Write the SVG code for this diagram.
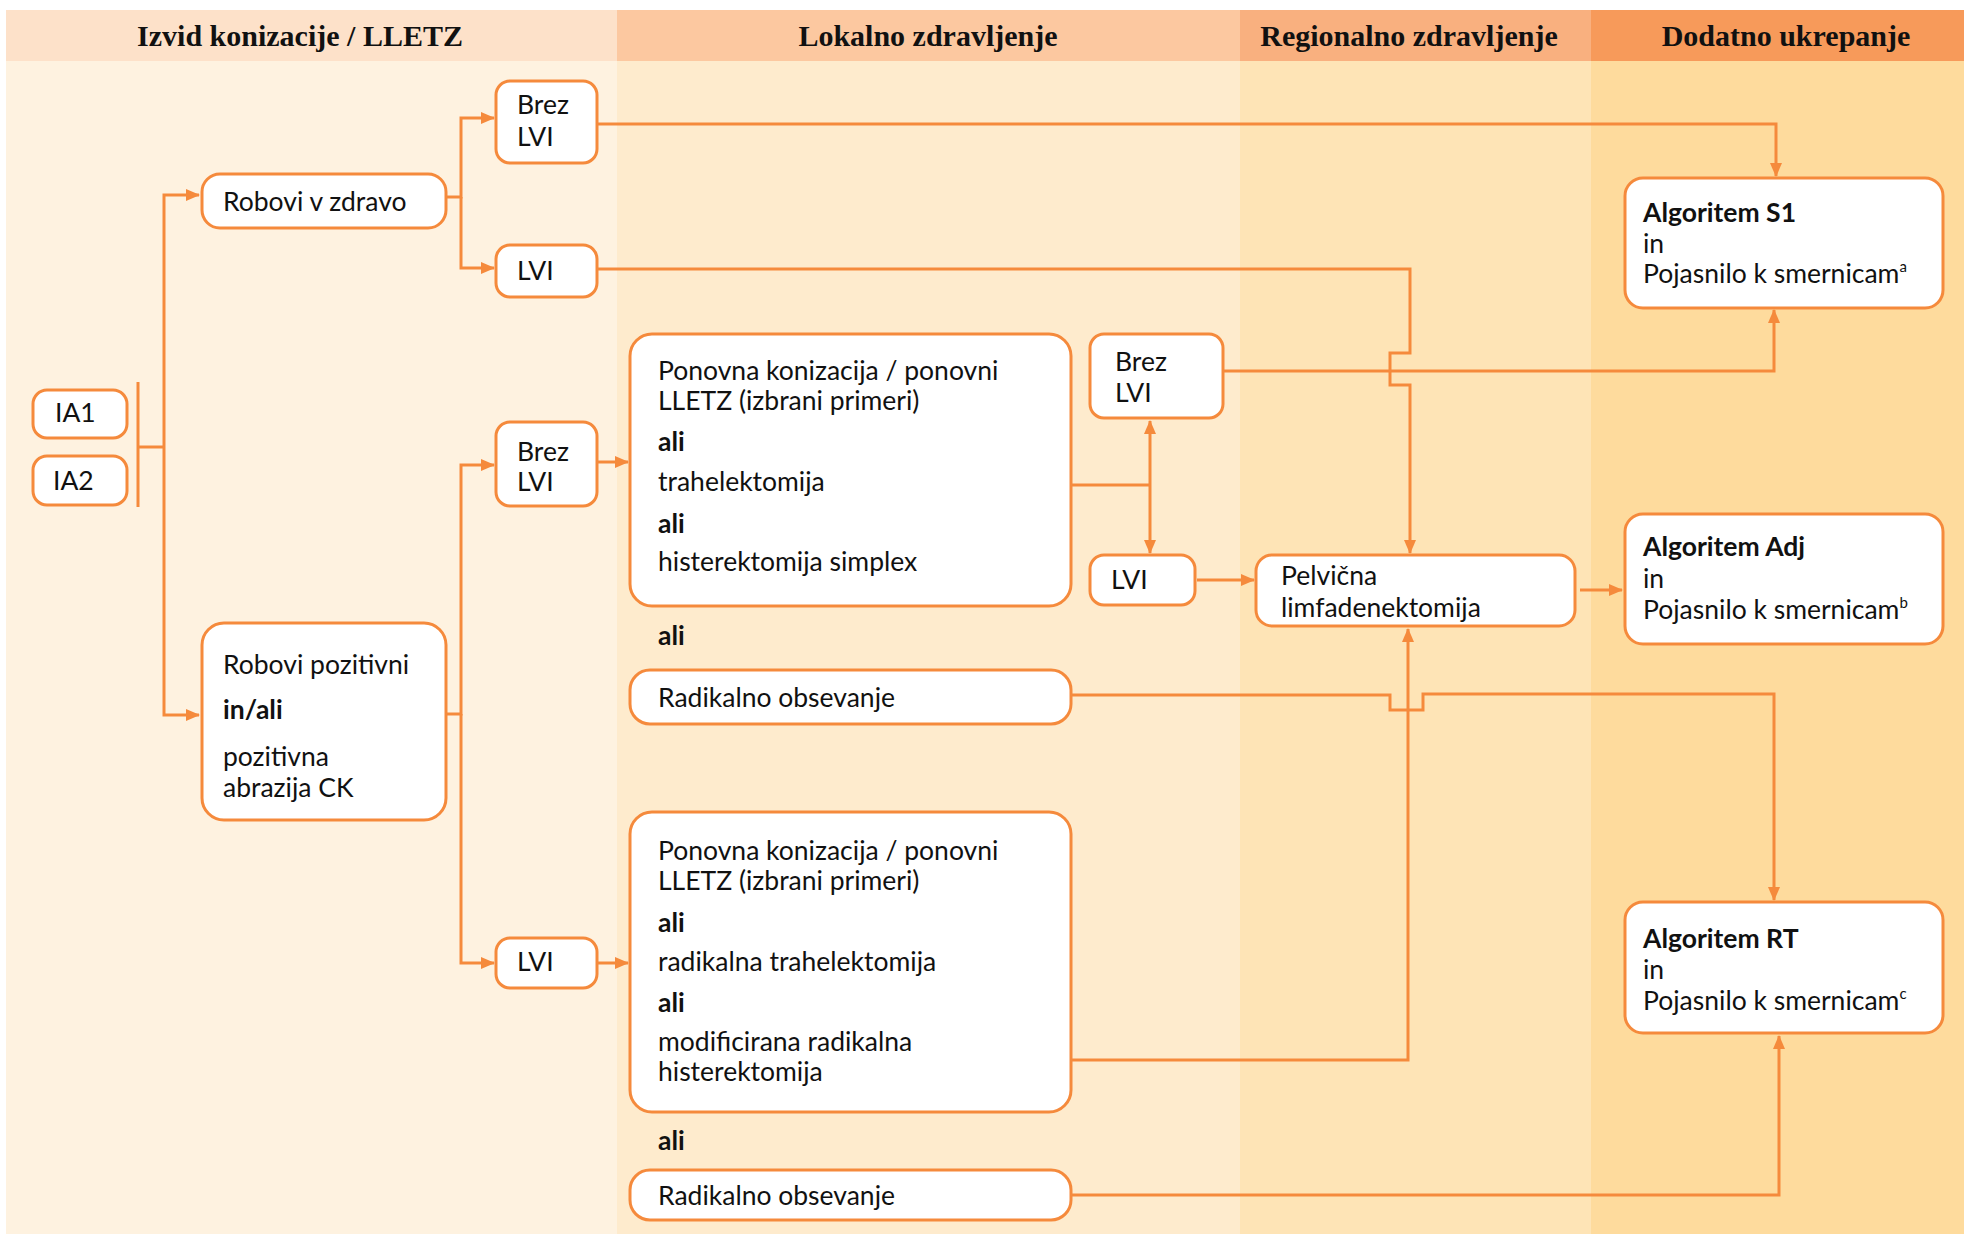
<svg xmlns="http://www.w3.org/2000/svg" width="1964" height="1235" viewBox="0 0 1964 1235">
<defs>
<style>
.hd{font-family:"Liberation Serif",serif;font-weight:bold;font-size:30px;fill:#111;text-anchor:middle}
.t{font-family:Lato,"Open Sans",sans-serif;font-size:26.5px;fill:#111}
.b{font-weight:bold}
.box{fill:#fff;stroke:#f58a3c;stroke-width:3}
.c{fill:none;stroke:#f58a3c;stroke-width:3}
.sup{font-size:15px}
</style>
<marker id="ah" markerUnits="userSpaceOnUse" markerWidth="14" markerHeight="12" refX="13" refY="6" orient="auto">
<path d="M0,0 L14,6 L0,12 z" fill="#f58a3c"/>
</marker>
</defs>
<rect width="1964" height="1235" fill="#fff"/>
<g id="background">
<rect x="6" y="10" width="611" height="51" fill="#fde1c9"/>
<rect x="617" y="10" width="623" height="51" fill="#fcc8a0"/>
<rect x="1240" y="10" width="351" height="51" fill="#f9b07f"/>
<rect x="1591" y="10" width="373" height="51" fill="#f79a5a"/>
<rect x="6" y="61" width="611" height="1173" fill="#fef2e0"/>
<rect x="617" y="61" width="623" height="1173" fill="#feebcd"/>
<rect x="1240" y="61" width="351" height="1173" fill="#fee4b6"/>
<rect x="1591" y="61" width="373" height="1173" fill="#fedb9d"/>
<text class="hd" x="300" y="46">Izvid konizacije / LLETZ</text>
<text class="hd" x="928" y="46">Lokalno zdravljenje</text>
<text class="hd" x="1409" y="46">Regionalno zdravljenje</text>
<text class="hd" x="1786" y="46">Dodatno ukrepanje</text>
</g>
<g id="connectors">
<path class="c" d="M138,382 V507 M138,447 H164"/>
<path class="c" d="M164,447 V195 H199" marker-end="url(#ah)"/>
<path class="c" d="M164,447 V715 H199" marker-end="url(#ah)"/>
<path class="c" d="M446,197 H461 V118 H494" marker-end="url(#ah)"/>
<path class="c" d="M461,197 V268 H494" marker-end="url(#ah)"/>
<path class="c" d="M446,714 H461 V465 H494" marker-end="url(#ah)"/>
<path class="c" d="M461,714 V963 H494" marker-end="url(#ah)"/>
<path class="c" d="M597,462 H628" marker-end="url(#ah)"/>
<path class="c" d="M597,963 H628" marker-end="url(#ah)"/>
<path class="c" d="M597,124 H1776 V176" marker-end="url(#ah)"/>
<path class="c" d="M597,269 H1410 V353 H1390 V385 H1410 V553" marker-end="url(#ah)"/>
<path class="c" d="M1223,371 H1774 V310" marker-end="url(#ah)"/>
<path class="c" d="M1071,485 H1150"/>
<path class="c" d="M1150,485 V421" marker-end="url(#ah)"/>
<path class="c" d="M1150,485 V553" marker-end="url(#ah)"/>
<path class="c" d="M1197,580 H1254" marker-end="url(#ah)"/>
<path class="c" d="M1071,1060 H1408 V629" marker-end="url(#ah)"/>
<path class="c" d="M1071,695 H1390 V710 H1423 V694 H1774 V900" marker-end="url(#ah)"/>
<path class="c" d="M1071,1195 H1779 V1036" marker-end="url(#ah)"/>
<path class="c" d="M1580,590 H1622" marker-end="url(#ah)"/>
</g>
<g id="ia1"><rect class="box" x="33" y="390" width="94" height="48" rx="14"/><text class="t" x="55" y="422">IA1</text></g>
<g id="ia2"><rect class="box" x="33" y="456" width="94" height="49" rx="14"/><text class="t" x="53" y="490">IA2</text></g>
<g id="robovi-zdravo"><rect class="box" x="202" y="174" width="244" height="54" rx="18"/><text class="t" x="223" y="211">Robovi v zdravo</text></g>
<g id="robovi-pozitivni"><rect class="box" x="202" y="623" width="244" height="197" rx="22"/>
<text class="t" x="223" y="674">Robovi pozitivni</text>
<text class="t b" x="223" y="719">in/ali</text>
<text class="t" x="223" y="766">pozitivna</text>
<text class="t" x="223" y="797">abrazija CK</text></g>
<g id="brez-lvi-1"><rect class="box" x="496" y="81" width="101" height="82" rx="14"/><text class="t" x="517" y="114">Brez</text><text class="t" x="517" y="146">LVI</text></g>
<g id="lvi-1"><rect class="box" x="496" y="245" width="101" height="52" rx="14"/><text class="t" x="517" y="280">LVI</text></g>
<g id="brez-lvi-2"><rect class="box" x="496" y="422" width="101" height="84" rx="14"/><text class="t" x="517" y="461">Brez</text><text class="t" x="517" y="491">LVI</text></g>
<g id="lvi-2"><rect class="box" x="496" y="938" width="101" height="50" rx="14"/><text class="t" x="517" y="971">LVI</text></g>
<g id="lokalno-1"><rect class="box" x="630" y="334" width="441" height="272" rx="22"/>
<text class="t" x="658" y="380">Ponovna konizacija / ponovni</text>
<text class="t" x="658" y="410">LLETZ (izbrani primeri)</text>
<text class="t b" x="658" y="451">ali</text>
<text class="t" x="658" y="491">trahelektomija</text>
<text class="t b" x="658" y="533">ali</text>
<text class="t" x="658" y="571">histerektomija simplex</text></g>
<g id="ali-1"><text class="t b" x="658" y="645">ali</text></g>
<g id="radikalno-1"><rect class="box" x="630" y="670" width="441" height="54" rx="20"/><text class="t" x="658" y="707">Radikalno obsevanje</text></g>
<g id="lokalno-2"><rect class="box" x="630" y="812" width="441" height="300" rx="22"/>
<text class="t" x="658" y="860">Ponovna konizacija / ponovni</text>
<text class="t" x="658" y="890">LLETZ (izbrani primeri)</text>
<text class="t b" x="658" y="932">ali</text>
<text class="t" x="658" y="971">radikalna trahelektomija</text>
<text class="t b" x="658" y="1012">ali</text>
<text class="t" x="658" y="1051">modificirana radikalna</text>
<text class="t" x="658" y="1081">histerektomija</text></g>
<g id="ali-2"><text class="t b" x="658" y="1150">ali</text></g>
<g id="radikalno-2"><rect class="box" x="630" y="1170" width="441" height="50" rx="20"/><text class="t" x="658" y="1205">Radikalno obsevanje</text></g>
<g id="brez-lvi-3"><rect class="box" x="1090" y="334" width="133" height="84" rx="14"/><text class="t" x="1115" y="371">Brez</text><text class="t" x="1115" y="402">LVI</text></g>
<g id="lvi-3"><rect class="box" x="1090" y="555" width="105" height="50" rx="14"/><text class="t" x="1111" y="589">LVI</text></g>
<g id="pelvicna"><rect class="box" x="1256" y="555" width="319" height="71" rx="16"/><text class="t" x="1281" y="585">Pelvična</text><text class="t" x="1281" y="617">limfadenektomija</text></g>
<g id="alg-s1"><rect class="box" x="1625" y="178" width="318" height="130" rx="18"/>
<text class="t b" x="1643" y="222">Algoritem S1</text>
<text class="t" x="1643" y="253">in</text>
<text class="t" x="1643" y="283">Pojasnilo k smernicam<tspan class="sup" dy="-11">a</tspan></text></g>
<g id="alg-adj"><rect class="box" x="1625" y="514" width="318" height="130" rx="18"/>
<text class="t b" x="1643" y="556">Algoritem Adj</text>
<text class="t" x="1643" y="588">in</text>
<text class="t" x="1643" y="619">Pojasnilo k smernicam<tspan class="sup" dy="-11">b</tspan></text></g>
<g id="alg-rt"><rect class="box" x="1625" y="902" width="318" height="131" rx="18"/>
<text class="t b" x="1643" y="948">Algoritem RT</text>
<text class="t" x="1643" y="979">in</text>
<text class="t" x="1643" y="1010">Pojasnilo k smernicam<tspan class="sup" dy="-11">c</tspan></text></g>
</svg>
